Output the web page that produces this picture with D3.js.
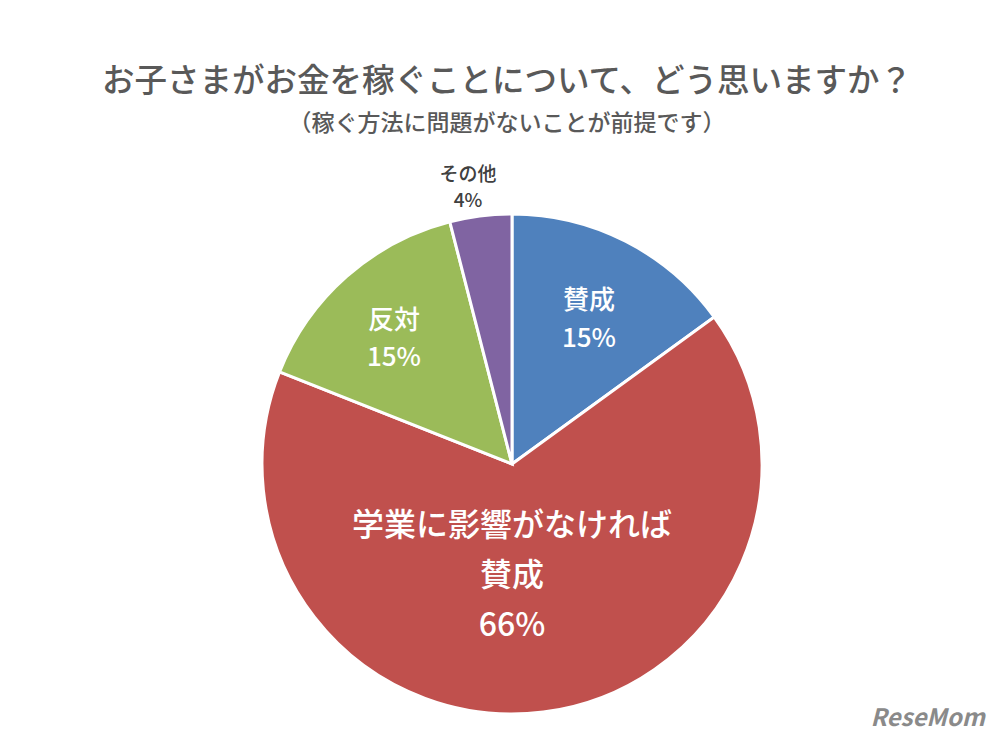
<!DOCTYPE html>
<html><head><meta charset="utf-8">
<script src="https://cdn.jsdelivr.net/npm/d3@7"></script>
<style>body{margin:0;background:#fff}svg{display:block}text{font-family:"Noto Sans CJK JP","Noto Sans",sans-serif}</style>
</head><body>
<script>
const categories=["賛成","学業に影響がなければ賛成","反対","その他"];
const values=[15,66,15,4];
const labelLines=[["賛成","15%"],["学業に影響がなければ","賛成","66%"],["反対","15%"],["その他","4%"]];
const colors=["#4F81BD","#C0504D","#9BBB59","#8064A2"];
const W=998,H=739,cx=512,cy=464,R=250;
const svg=d3.select("body").append("svg").attr("width",W).attr("height",H);
svg.append("text").attr("x",507).attr("y",92).attr("text-anchor","middle").attr("font-size",32.5).attr("font-weight",500).attr("fill","#595959").text("お子さまがお金を稼ぐことについて、どう思いますか？");
svg.append("text").attr("x",507).attr("y",131).attr("text-anchor","middle").attr("font-size",23).attr("font-weight",500).attr("fill","#595959").text("（稼ぐ方法に問題がないことが前提です）");
const pie=d3.pie().sort(null).value(d=>d)(values);
const arc=d3.arc().innerRadius(0).outerRadius(R);
const g=svg.append("g").attr("transform",`translate(${cx},${cy})`);
g.selectAll("path").data(pie).join("path").attr("d",arc).attr("fill",(d,i)=>colors[i]).attr("stroke","#fff").attr("stroke-width",3);
const pos=[[77,-155,26,38],[0,72,32,50],[-118,-135,26,37],[-44,-283,19,26]];
pie.forEach((d,i)=>{
  const [dx,dy,fs,lh]=pos[i];
  const t=g.append("text").attr("text-anchor","middle").attr("font-size",fs).attr("font-weight",500).attr("fill",i===3?"#404040":"#fff");
  labelLines[i].forEach((s,j)=>t.append("tspan").attr("x",dx).attr("y",dy+j*lh).text(s));
});
svg.append("text").attr("x",985).attr("y",726).attr("text-anchor","end").attr("font-size",24).attr("font-weight","bold").attr("font-style","italic").attr("fill","#8a8a8a").attr("font-family","Liberation Sans").text("ReseMom");
</script>
</body></html>
